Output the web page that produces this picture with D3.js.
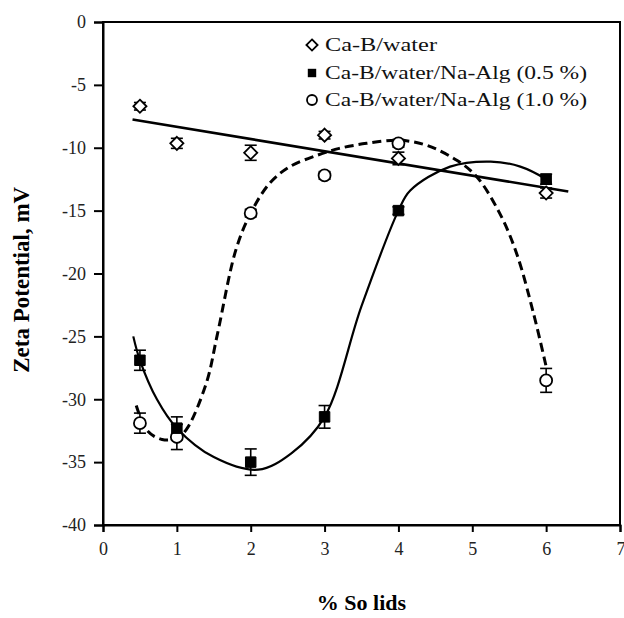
<!DOCTYPE html>
<html><head><meta charset="utf-8">
<script src="https://cdn.jsdelivr.net/npm/d3@7"></script>
<style>body{margin:0;background:#fff}svg{display:block}</style>
</head><body>
<script>
// ---- data ----
const solids = [0.5, 1, 2, 3, 4, 6];
const waterVals = [-6.7, -9.65, -10.4, -9.0, -10.85, -13.6];
const waterErr = [0.3, 0.4, 0.6, 0.3, 0.5, 0.4];
const alg05Vals = [-26.9, -32.3, -35.0, -31.4, -15.0, -12.5];
const alg05Err = [0.8, 0.9, 1.05, 0.9, 0.3, 0.4];
const alg10Vals = [-31.9, -33.0, -15.2, -12.2, -9.65, -28.5];
const alg10Err = [0.8, 1.0, 0.3, 0.3, 0.3, 0.95];
const seriesNames = ["Ca-B/water", "Ca-B/water/Na-Alg (0.5 %)", "Ca-B/water/Na-Alg (1.0 %)"];
const xTicks = [0, 1, 2, 3, 4, 5, 6, 7];
const yTicks = [0, -5, -10, -15, -20, -25, -30, -35, -40];
const xTitle = "% So lids";
const yTitle = "Zeta Potential, mV";
// fitted curves
const waterFitX = [0.4, 6.3];
const alg05FitX = [0.41, 0.5, 0.73, 1, 1.5, 2.1, 2.55, 3, 3.5, 4, 4.16, 4.7, 5.25, 5.65, 6, 6.07];
const alg05FitY = [-25.0, -26.9, -30.0, -32.3, -34.6, -35.6, -34.3, -31.4, -22.6, -15.0, -13.4, -11.5, -11.1, -11.5, -12.5, -12.8];
const alg10FitX = [0.45, 0.6, 0.8, 1.0, 1.13, 1.4, 1.55, 1.8, 2, 2.26, 2.53, 2.9, 3.2, 3.57, 4.0, 4.38, 4.79, 5.06, 5.37, 5.6, 5.83, 6.0];
const alg10FitY = [-30.5, -32.5, -33.2, -33.1, -32.4, -28.7, -24.8, -18.1, -15.2, -12.8, -11.5, -10.6, -10.05, -9.65, -9.4, -9.8, -11.0, -12.3, -15.2, -18.4, -23.2, -27.4];

const W = 624, H = 618;
const m = {l: 103, r: 4, t: 22, b: 93};
const svg = d3.select("body").append("svg").attr("width", W).attr("height", H);
const x = d3.scaleLinear().domain([0, 7]).range([m.l, W - m.r]);
const y = d3.scaleLinear().domain([-40, 0]).range([H - m.b, m.t]);

// linear least-squares trendline for the water series
const mx = d3.mean(solids), my = d3.mean(waterVals);
const slope = d3.sum(solids, (s, i) => (s - mx) * (waterVals[i] - my)) / d3.sum(solids, s => (s - mx) ** 2);
const icpt = my - slope * mx;

// frame
svg.append("rect").attr("x", m.l).attr("y", m.t).attr("width", x(7) - m.l).attr("height", y(-40) - m.t)
  .attr("fill", "none").attr("stroke", "#000").attr("stroke-width", 2);

// axes
const font = "'Liberation Serif', 'Times New Roman', serif";
const yAxis = svg.append("g").attr("transform", `translate(${m.l},0)`)
  .call(d3.axisLeft(y).tickValues(yTicks).tickSize(9).tickPadding(8).tickFormat(d => d === 0 ? "0" : "-" + Math.abs(d)));
const xAxis = svg.append("g").attr("transform", `translate(0,${y(-40)})`)
  .call(d3.axisBottom(x).tickValues(xTicks).tickSize(7).tickPadding(10).tickFormat(d3.format("d")));
[xAxis, yAxis].forEach(g => {
  g.select(".domain").attr("stroke-width", 2);
  g.selectAll(".tick line").attr("stroke-width", 2);
  g.selectAll("text").attr("font-family", font).attr("font-size", 18).attr("fill", "#222");
});
xAxis.selectAll(".tick").filter(d => d === 7).select("text").attr("text-anchor", "start").attr("dx", "-4");

svg.append("text").attr("x", x(3.5)).attr("y", 610).attr("text-anchor", "middle")
  .attr("font-family", font).attr("font-weight", "bold").attr("font-size", 22).text(xTitle);
svg.append("text").attr("transform", `translate(29,${y(-20.5)}) rotate(-90)`).attr("text-anchor", "middle")
  .attr("font-family", font).attr("font-weight", "bold").attr("font-size", 23).text(yTitle);

// trend lines
const line = d3.line().x(d => x(d[0])).y(d => y(d[1]));
const smooth = d3.line().x(d => x(d[0])).y(d => y(d[1])).curve(d3.curveCatmullRom.alpha(0.5));
svg.append("path").attr("d", line(waterFitX.map(t => [t, icpt + slope * t])))
  .attr("fill", "none").attr("stroke", "#000").attr("stroke-width", 2.6);
svg.append("path").attr("d", smooth(alg05FitX.map((t, i) => [t, alg05FitY[i]])))
  .attr("fill", "none").attr("stroke", "#000").attr("stroke-width", 2.2);
svg.append("path").attr("d", smooth(alg10FitX.map((t, i) => [t, alg10FitY[i]])))
  .attr("fill", "none").attr("stroke", "#000").attr("stroke-width", 3).attr("stroke-dasharray", "9,5");

// error bars + markers
function errBars(vals, errs) {
  const g = svg.append("g").attr("stroke", "#000").attr("stroke-width", 1.6);
  solids.forEach((s, i) => {
    const cx = x(s), y1 = y(vals[i] + errs[i]), y2 = y(vals[i] - errs[i]);
    g.append("line").attr("x1", cx).attr("x2", cx).attr("y1", y1).attr("y2", y2);
    g.append("line").attr("x1", cx - 6).attr("x2", cx + 6).attr("y1", y1).attr("y2", y1);
    g.append("line").attr("x1", cx - 6).attr("x2", cx + 6).attr("y1", y2).attr("y2", y2);
  });
}
errBars(waterVals, waterErr);
errBars(alg05Vals, alg05Err);
errBars(alg10Vals, alg10Err);

const diamond = d3.symbol().type(d3.symbolDiamond2).size(110);
const square = d3.symbol().type(d3.symbolSquare2).size(140);
svg.append("g").selectAll("path").data(solids).join("path")
  .attr("transform", (d, i) => `translate(${x(d)},${y(waterVals[i])})`)
  .attr("d", diamond).attr("fill", "#fff").attr("stroke", "#000").attr("stroke-width", 1.8);
svg.append("g").selectAll("circle").data(solids).join("circle")
  .attr("cx", d => x(d)).attr("cy", (d, i) => y(alg10Vals[i])).attr("r", 6)
  .attr("fill", "#fff").attr("stroke", "#000").attr("stroke-width", 1.8);
svg.append("g").selectAll("path").data(solids).join("path")
  .attr("transform", (d, i) => `translate(${x(d)},${y(alg05Vals[i])})`)
  .attr("d", square).attr("fill", "#000").attr("stroke", "#000").attr("stroke-width", 1);

// legend
const leg = svg.append("g").attr("font-family", font).attr("font-size", 19).attr("fill", "#111");
const rows = [45, 73, 100];
const widths = [112, 262, 262];
seriesNames.forEach((n, i) => {
  const cy = rows[i], cx = 312;
  if (i === 0) leg.append("path").attr("transform", `translate(${cx},${cy})`).attr("d", d3.symbol().type(d3.symbolDiamond2).size(80)).attr("fill", "#fff").attr("stroke", "#000").attr("stroke-width", 1.8);
  if (i === 1) leg.append("path").attr("transform", `translate(${cx},${cy})`).attr("d", d3.symbol().type(d3.symbolSquare2).size(90)).attr("fill", "#000");
  if (i === 2) leg.append("circle").attr("cx", cx).attr("cy", cy).attr("r", 5).attr("fill", "#fff").attr("stroke", "#000").attr("stroke-width", 1.8);
  leg.append("text").attr("x", 325).attr("y", cy + 6).attr("textLength", widths[i]).attr("lengthAdjust", "spacingAndGlyphs").text(n);
});
</script>
</body></html>
